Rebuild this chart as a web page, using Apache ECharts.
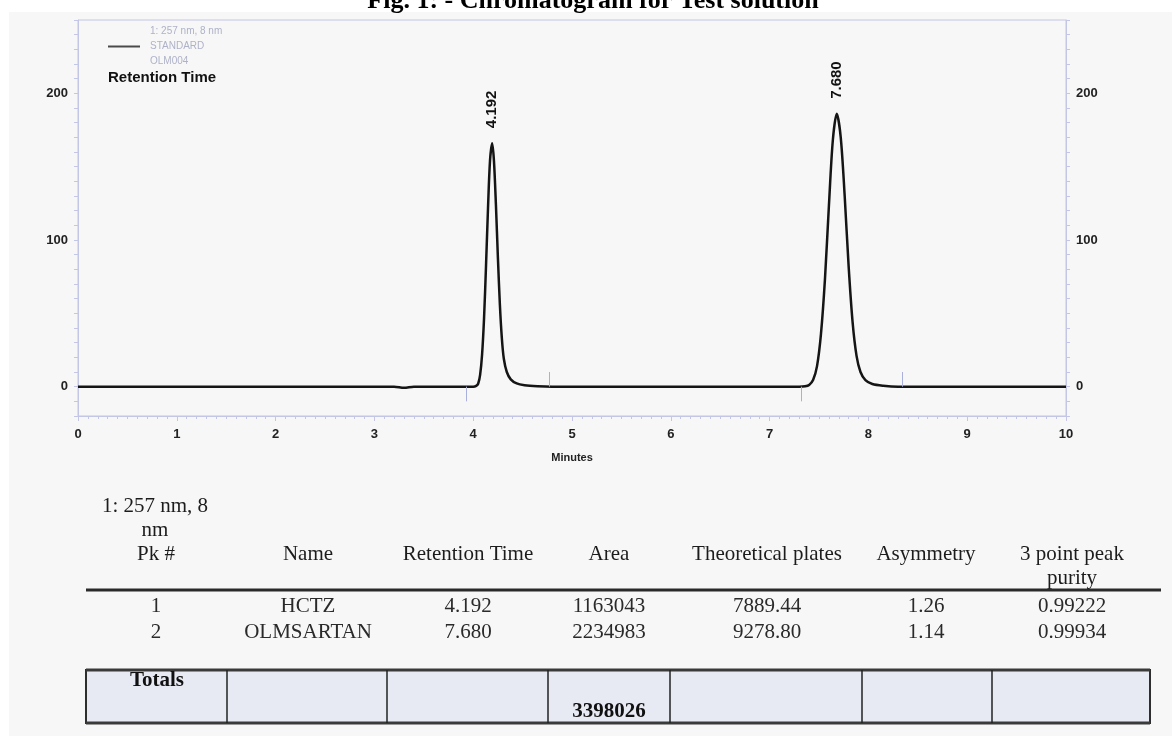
<!DOCTYPE html>
<html>
<head>
<meta charset="utf-8">
<title>Chromatogram for Test solution</title>
<script src="https://cdn.jsdelivr.net/npm/echarts@6/dist/echarts.min.js"></script>
<style>
  html, body { margin: 0; padding: 0; background: #ffffff; }
  #chart { width: 1172px; height: 736px; }
</style>
</head>
<body>
<div id="chart"></div>
<script>
// trace (minutes / mAU)
var traceTime = [0, 1, 2, 3, 3.2, 3.3, 3.4, 3.9, 4.0, 4.03, 4.05, 4.07, 4.09, 4.11, 4.13, 4.15, 4.17, 4.192,
    4.21, 4.23, 4.25, 4.27, 4.29, 4.31, 4.34, 4.38, 4.44, 4.52, 4.65, 4.8, 6, 7, 7.3, 7.36, 7.40, 7.44, 7.48,
    7.52, 7.56, 7.60, 7.64, 7.68, 7.72, 7.76, 7.80, 7.84, 7.88, 7.92, 7.97, 8.04, 8.15, 8.3, 9, 10];
var traceSignal = [0, 0, 0, 0, 0, -0.8, 0, 0, 0, 0.5, 2, 8, 22, 47, 83, 122, 154, 166,
    154, 124, 88, 56, 33, 19, 10, 5, 2.2, 1, 0.3, 0, 0, 0, 0, 0.3, 1.2, 4.5, 14,
    36, 73, 123, 168, 186, 170, 130, 82, 44, 21, 10, 4.5, 1.8, 0.6, 0, 0, 0];

// peaks
var peakTimes = [4.192, 7.680];
var peakHeights = [166, 186];
var peakLabels = ['4.192', '7.680'];
var peakStart = [3.93, 7.32];
var peakEnd = [4.77, 8.34];

// axis ticks
var xTickLabels = [0, 1, 2, 3, 4, 5, 6, 7, 8, 9, 10];
var yLabelValues = [0, 100, 200];
var yTickValues = [-20, -10, 0, 10, 20, 30, 40, 50, 60, 70, 80, 90, 100, 110, 120, 130, 140, 150,
    160, 170, 180, 190, 200, 210, 220, 230, 240, 250];

var legendLines = ['1: 257 nm, 8 nm', 'STANDARD', 'OLM004'];

// results table
var tableWave = '1: 257 nm, 8\nnm';
var tableHeaders = ['Pk #', 'Name', 'Retention Time', 'Area', 'Theoretical plates', 'Asymmetry', '3 point peak\npurity'];
var rowPk = ['1', '2'];
var rowName = ['HCTZ', 'OLMSARTAN'];
var rowRT = ['4.192', '7.680'];
var rowArea = ['1163043', '2234983'];
var rowPlates = ['7889.44', '9278.80'];
var rowAsym = ['1.26', '1.14'];
var rowPurity = ['0.99222', '0.99934'];
var totalArea = '3398026';

var frameColor = '#c3c6e4';
var serif = '"Liberation Serif", "Times New Roman", serif';
var sans = '"Liberation Sans", Arial, sans-serif';

var traceData = traceTime.map(function (t, i) { return [t, traceSignal[i]]; });

var markPts = peakTimes.map(function (t, i) {
    return { coord: [t, peakHeights[i]], value: peakLabels[i] };
});

var markLines = [];
peakStart.forEach(function (t) {
    markLines.push([{ coord: [t, 0] }, { coord: [t, -10] }]);
});
peakEnd.forEach(function (t) {
    markLines.push([{ coord: [t, 0] }, { coord: [t, 10] }]);
});

function yAxisCfg(pos) {
    return {
        type: 'value',
        position: pos,
        min: -20,
        max: 250,
        axisLine: { show: true, lineStyle: { color: frameColor } },
        axisTick: { show: true, customValues: yTickValues, length: 4, lineStyle: { color: frameColor } },
        axisLabel: {
            customValues: yLabelValues, margin: 10,
            color: '#222', fontSize: 13, fontWeight: 'bold', fontFamily: sans
        },
        splitLine: { show: false }
    };
}

// table graphics
var colX = [156, 308, 468, 609, 767, 926, 1072];
var rowY = [606, 632];
var tableFont = '21px ' + serif;
var g = [];

g.push({ type: 'rect', shape: { x: 0, y: 0, width: 1172, height: 12 }, style: { fill: '#ffffff' }, z: -5 });
g.push({ type: 'rect', shape: { x: 0, y: 0, width: 9, height: 736 }, style: { fill: '#ffffff' }, z: -5 });
g.push({
    type: 'text', x: 593, y: 1,
    style: { text: 'Fig. 1: - Chromatogram for Test solution', font: 'bold 26px ' + serif, fill: '#000', align: 'center', verticalAlign: 'middle' }
});
g.push({
    type: 'text', x: 108, y: 78,
    style: { text: 'Retention Time', font: 'bold 15px ' + sans, fill: '#111', verticalAlign: 'middle' }
});

g.push({
    type: 'text', x: 155, y: 494,
    style: { text: tableWave, font: tableFont, fill: '#1c1c1c', align: 'center', verticalAlign: 'top', lineHeight: 24 }
});
tableHeaders.forEach(function (h, i) {
    g.push({
        type: 'text', x: colX[i], y: 542,
        style: { text: h, font: tableFont, fill: '#1c1c1c', align: 'center', verticalAlign: 'top', lineHeight: 24 }
    });
});
g.push({ type: 'line', shape: { x1: 86, y1: 590, x2: 1161, y2: 590 }, style: { stroke: '#2a2a2a', lineWidth: 3 } });

var cols = [rowPk, rowName, rowRT, rowArea, rowPlates, rowAsym, rowPurity];
cols.forEach(function (col, ci) {
    col.forEach(function (v, ri) {
        g.push({
            type: 'text', x: colX[ci], y: rowY[ri],
            style: { text: v, font: tableFont, fill: '#2a2a2a', align: 'center', verticalAlign: 'middle' }
        });
    });
});

// totals box
g.push({ type: 'rect', shape: { x: 86, y: 670, width: 1064, height: 53 }, style: { fill: '#e8eaf3', stroke: '#2e2e2e', lineWidth: 2 } });
g.push({ type: 'line', shape: { x1: 86, y1: 670, x2: 1150, y2: 670 }, style: { stroke: '#3a3a3a', lineWidth: 3 } });
g.push({ type: 'line', shape: { x1: 86, y1: 723, x2: 1150, y2: 723 }, style: { stroke: '#3a3a3a', lineWidth: 3 } });
[227, 387, 548, 670, 862, 992].forEach(function (x) {
    g.push({ type: 'line', shape: { x1: x, y1: 670, x2: x, y2: 723 }, style: { stroke: '#222', lineWidth: 1.5 } });
});
g.push({
    type: 'text', x: 157, y: 681,
    style: { text: 'Totals', font: 'bold 21px ' + serif, fill: '#111', align: 'center', verticalAlign: 'middle' }
});
g.push({
    type: 'text', x: 609, y: 712,
    style: { text: totalArea, font: 'bold 21px ' + serif, fill: '#111', align: 'center', verticalAlign: 'middle' }
});

var chart = echarts.init(document.getElementById('chart'));

var option = {
    backgroundColor: '#f7f7f7',
    animation: false,
    grid: {
        left: 78, right: 106, top: 20, bottom: 320,
        show: true, borderColor: frameColor, borderWidth: 1, backgroundColor: 'transparent'
    },
    legend: {
        left: 108, top: 24, padding: 0,
        data: [{ name: 'STANDARD', icon: 'rect', itemStyle: { color: '#4a4a4a' } }],
        itemWidth: 32, itemHeight: 2,
        formatter: function () { return legendLines.join('\n'); },
        textStyle: { color: '#aeb2c8', fontSize: 10, lineHeight: 15, fontFamily: sans, padding: [0, 0, 0, 5] }
    },
    xAxis: {
        type: 'value', min: 0, max: 10, interval: 1,
        name: 'Minutes', nameLocation: 'middle', nameGap: 36,
        nameTextStyle: { fontSize: 11, fontWeight: 'bold', color: '#222', fontFamily: sans },
        axisLine: { onZero: false, lineStyle: { color: frameColor } },
        axisTick: { length: 5, lineStyle: { color: frameColor } },
        minorTick: { show: true, splitNumber: 10, length: 3, lineStyle: { color: frameColor } },
        axisLabel: {
            margin: 12, color: '#222', fontSize: 13, fontWeight: 'bold', fontFamily: sans,
            formatter: function (v) { return xTickLabels.indexOf(v) >= 0 ? String(v) : ''; }
        },
        splitLine: { show: false }
    },
    yAxis: [yAxisCfg('left'), yAxisCfg('right')],
    graphic: g,
    series: [{
        name: 'STANDARD',
        type: 'line',
        data: traceData,
        showSymbol: false,
        symbol: 'none',
        smooth: 0.3,
        lineStyle: { color: '#151515', width: 2.5 },
        itemStyle: { color: '#151515' },
        markPoint: {
            symbol: 'circle', symbolSize: 0, silent: true,
            label: {
                show: true, position: 'top', distance: 15, rotate: 90,
                align: 'left', verticalAlign: 'middle',
                color: '#111', fontSize: 15, fontWeight: 'bold', fontFamily: sans,
                formatter: function (p) { return p.value; }
            },
            data: markPts
        },
        markLine: {
            silent: true, symbol: 'none', animation: false,
            label: { show: false },
            lineStyle: { color: '#aab0dc', width: 1, type: 'solid' },
            data: markLines
        }
    }]
};

chart.setOption(option);
</script>
</body>
</html>
